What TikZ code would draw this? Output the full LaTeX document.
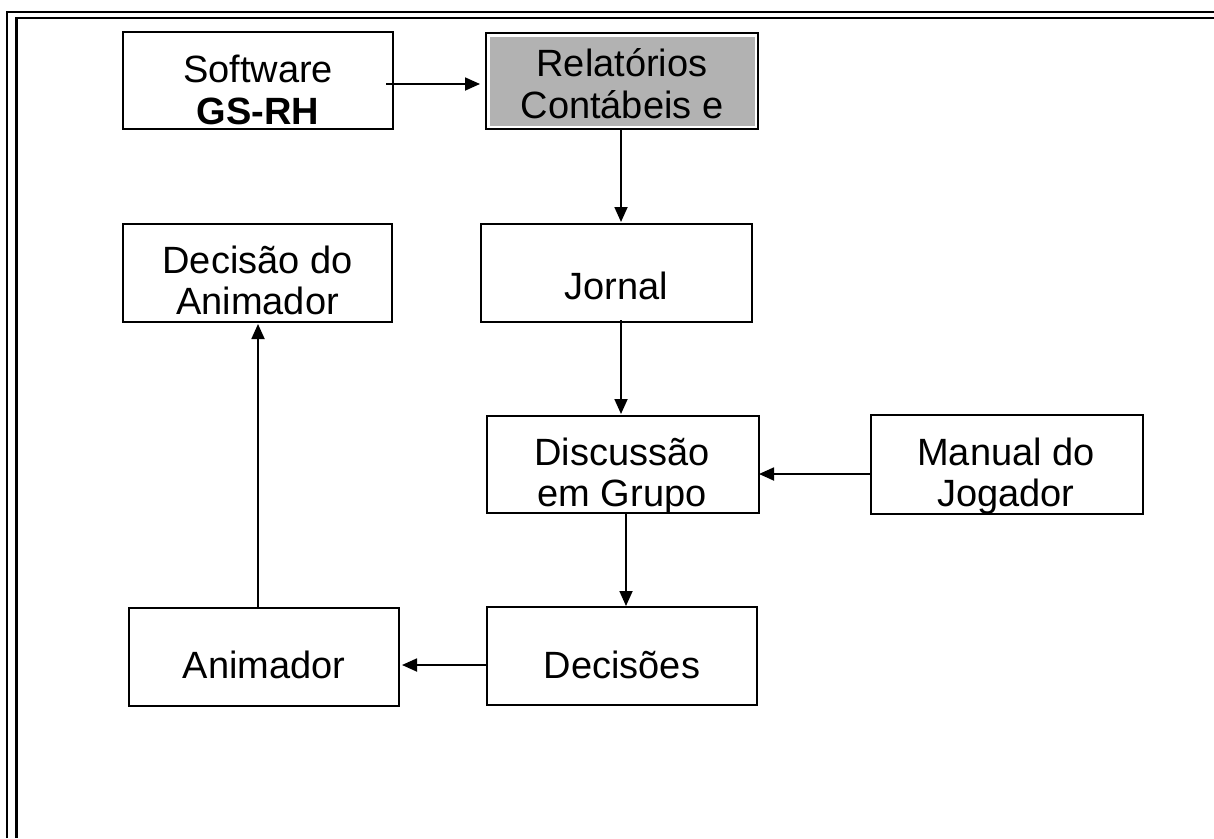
\documentclass[tikz,border=0pt]{standalone}
\usepackage{fontspec}
\setmainfont{Liberation Sans}
\usetikzlibrary{arrows.meta,calc}
\definecolor{relgray}{RGB}{178,178,178}
\tikzset{
  box/.style={draw=black, line width=2pt, rectangle, inner sep=0pt, fill=white},
  lbl/.style={anchor=base, inner sep=0pt, font=\fontsize{38}{45}\selectfont, text=black},
  arr/.style={line width=1.8pt, -{Triangle[length=15pt,width=13pt]}},
  frameline/.style={line width=2.2pt}
}
\begin{document}
\begin{tikzpicture}[x=1pt,y=-1pt]
\useasboundingbox (0,0) rectangle (1214,838);
% outer double frame (top and left)
\draw[frameline] (7,838) -- (7,12) -- (1214,12);
\draw[frameline] (16.5,838) -- (16.5,18) -- (1214,18);

% boxes
\node[box, minimum width=270pt, minimum height=97pt] (sw) at (258,80.5) {};
\node[box, minimum width=272pt, minimum height=96pt] (rel) at (622,81) {};
\fill[relgray] ($(rel.north west)+(4.5,4.5)$) rectangle ($(rel.south east)+(-4.5,-4.5)$);
\node[box, minimum width=271pt, minimum height=98pt] (jor) at (616.5,273) {};
\node[box, minimum width=269pt, minimum height=98pt] (dec) at (257.5,273) {};
\node[box, minimum width=272pt, minimum height=97pt] (dis) at (623,464.5) {};
\node[box, minimum width=272pt, minimum height=99pt] (man) at (1007,464.5) {};
\node[box, minimum width=270pt, minimum height=98pt] (ani) at (264,657) {};
\node[box, minimum width=270pt, minimum height=98pt] (dcs) at (622,656) {};

% texts
\node[lbl] (sw1) at (258,82) {Software};
\node[lbl] (sw2) at (258,124) {\bfseries GS-RH};
\node[lbl] (rel1) at (622,76) {Relatórios};
\node[lbl] (rel2) at (622,118) {Contábeis e};
\node[lbl] (jor1) at (616.5,299) {Jornal};
\node[lbl] (dec1) at (257.5,273) {Decisão do};
\node[lbl] (dec2) at (257.5,314) {Animador};
\node[lbl] (dis1) at (622,465) {Discussão};
\node[lbl] (dis2) at (622,506) {em Grupo};
\node[lbl] (man1) at (1006,465) {Manual do};
\node[lbl] (man2) at (1006,506) {Jogador};
\node[lbl] (ani1) at (264,678) {Animador};
\node[lbl] (dcs1) at (622,678) {Decisões};

% connectors
\draw[arr] ($(sw.east)+(-8,3.5)$) -- ($(rel.west)+(-5,3)$);
\draw[arr] ($(rel.south)+(-1,-2)$) -- ($(jor.north)+(4.5,-1)$);
\draw[arr] ($(jor.south)+(4.5,-3)$) -- ($(dis.north)+(-2,-1)$);
\draw[arr] ($(man.west)+(0,9.5)$) -- ($(dis.east)+(-1,9.5)$);
\draw[arr] ($(dis.south)+(3,0)$) -- ($(dcs.north)+(4,0)$);
\draw[arr] ($(dcs.west)+(1,9)$) -- ($(ani.east)+(2,8)$);
\draw[arr] ($(ani.north)+(-6,0)$) -- ($(dec.south)+(0.5,1)$);
\end{tikzpicture}
\end{document}
